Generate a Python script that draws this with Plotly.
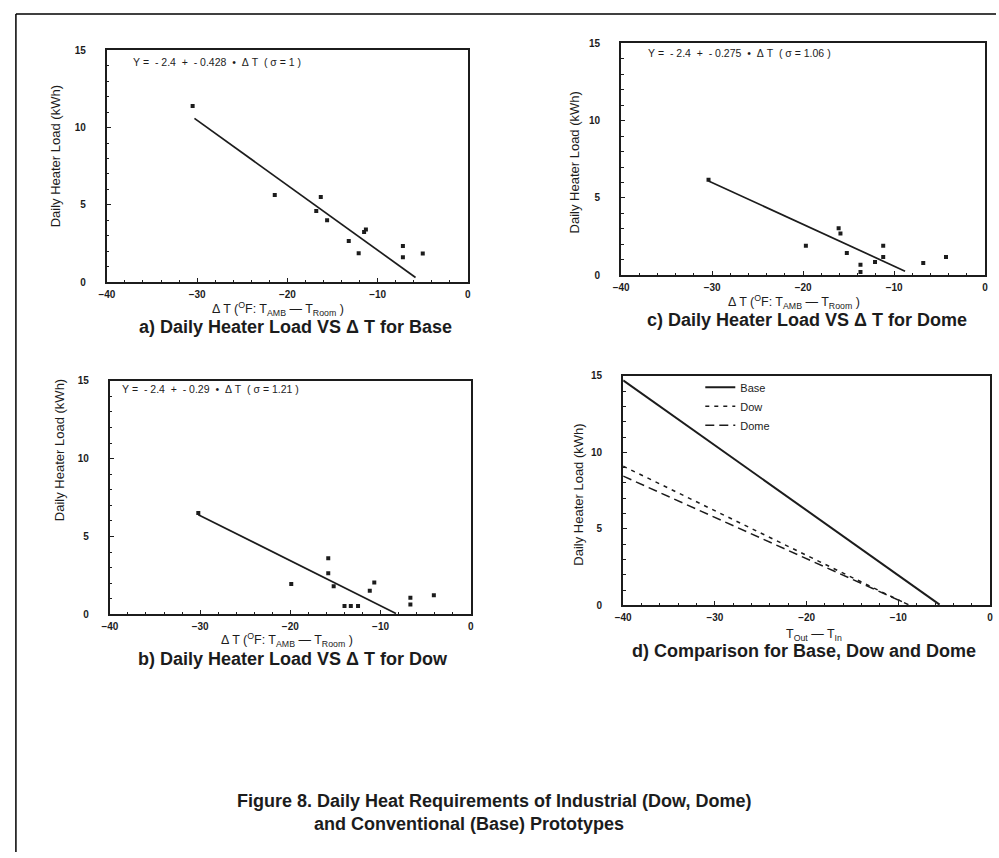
import plotly.graph_objects as go

W, H = 999, 858

# ---------------- data ----------------
a_x = [-30.5, -21.4, -16.3, -16.8, -15.6, -13.2, -12.1, -11.5, -11.3, -7.2, -7.2, -5.0]
a_y = [11.4, 5.64, 5.5, 4.6, 4.0, 2.66, 1.87, 3.25, 3.4, 2.34, 1.6, 1.85]
a_fit_x = [-30.3, -5.8]
a_fit_y = [10.6, 0.3]

c_x = [-30.4, -19.7, -16.1, -15.9, -15.2, -13.7, -13.7, -12.1, -11.2, -11.2, -6.8, -4.3]
c_y = [6.17, 1.91, 3.04, 2.7, 1.43, 0.68, 0.21, 0.85, 1.91, 1.17, 0.79, 1.17]
c_fit_x = [-30.4, -8.8]
c_fit_y = [6.1, 0.26]

b_x = [-30.2, -19.9, -15.8, -15.8, -15.2, -14.0, -13.3, -12.5, -11.2, -10.7, -6.7, -6.7, -4.1]
b_y = [6.5, 1.95, 3.6, 2.64, 1.8, 0.53, 0.53, 0.53, 1.52, 2.05, 1.06, 0.63, 1.23]
b_fit_x = [-30.2, -8.3]
b_fit_y = [6.4, 0.05]

d_base_x = [-40, -5.5]
d_base_y = [14.7, 0.06]
d_dow_x = [-40, -9.1]
d_dow_y = [9.1, 0.1]
d_dome_x = [-40, -8.9]
d_dome_y = [8.45, 0.06]

x_ticks = [-40, -30, -20, -10, 0]
y_ticks = [0, 5, 10, 15]

NB = "\u00a0"
S = NB * 2
eq_a = f"Y{NB}={S}-{NB}2.4{S}+{S}-{NB}0.428{S}•{S}Δ{NB}T{S}({NB}σ{NB}={NB}1{NB})"
eq_c = f"Y{NB}={S}-{NB}2.4{S}+{S}-{NB}0.275{S}•{S}Δ{NB}T{S}({NB}σ{NB}={NB}1.06{NB})"
eq_b = f"Y{NB}={S}-{NB}2.4{S}+{S}-{NB}0.29{S}•{S}Δ{NB}T{S}({NB}σ{NB}={NB}1.21{NB})"
ylab = "Daily Heater Load (kWh)"
xlab_dt = "Δ T (<sup>O</sup>F: T<sub>AMB</sub> — T<sub>Room</sub> )"
xlab_d = "T<sub>Out</sub> — T<sub>In</sub>"
sub_a = "a) Daily Heater Load VS Δ T for Base"
sub_c = "c) Daily Heater Load VS Δ T for Dome"
sub_b = "b) Daily Heater Load VS Δ T for Dow"
sub_d = "d) Comparison for Base, Dow and Dome"
fig_title1 = "Figure 8. Daily Heat Requirements of Industrial (Dow, Dome)"
fig_title2 = "and Conventional (Base) Prototypes"

INK = "#1c1c1c"
FONT = "Liberation Sans, Arial, sans-serif"

def px(x):
    return x / W

def py(y):
    return 1 - y / H

# panel pixel boxes (left, right, top, bottom)
boxes = {
    "a": (100, 465, 45, 280),
    "c": (620, 988, 38, 273),
    "b": (103, 468, 380, 617),
    "d": (622, 993, 375, 608),
}
order = ["a", "c", "b", "d"]

fig = go.Figure()

def ax_names(i):
    return ("x" if i == 0 else f"x{i+1}"), ("y" if i == 0 else f"y{i+1}")

mk = dict(symbol="square", size=4, color=INK)
scatter_sets = {"a": (a_x, a_y, a_fit_x, a_fit_y),
                "c": (c_x, c_y, c_fit_x, c_fit_y),
                "b": (b_x, b_y, b_fit_x, b_fit_y)}

for i, k in enumerate(order):
    xa, ya = ax_names(i)
    if k in scatter_sets:
        sx, sy, fx, fy = scatter_sets[k]
        fig.add_trace(go.Scatter(x=sx, y=sy, mode="markers", marker=mk,
                                 xaxis=xa, yaxis=ya, showlegend=False))
        fig.add_trace(go.Scatter(x=fx, y=fy, mode="lines",
                                 line=dict(color=INK, width=1.7),
                                 xaxis=xa, yaxis=ya, showlegend=False))
    else:
        fig.add_trace(go.Scatter(x=d_base_x, y=d_base_y, mode="lines", name="Base",
                                 line=dict(color=INK, width=2),
                                 xaxis=xa, yaxis=ya))
        fig.add_trace(go.Scatter(x=d_dow_x, y=d_dow_y, mode="lines", name="Dow",
                                 line=dict(color=INK, width=1.5, dash="4px,5px"),
                                 xaxis=xa, yaxis=ya))
        fig.add_trace(go.Scatter(x=d_dome_x, y=d_dome_y, mode="lines", name="Dome",
                                 line=dict(color=INK, width=1.5, dash="9px,5px"),
                                 xaxis=xa, yaxis=ya))

layout = dict(
    width=W, height=H,
    margin=dict(l=0, r=0, t=0, b=0),
    paper_bgcolor="white", plot_bgcolor="white",
    font=dict(family=FONT, color=INK),
    showlegend=True,
    legend=dict(x=px(700), y=py(372), xanchor="left", yanchor="top",
                bgcolor="rgba(0,0,0,0)", font=dict(size=11, family=FONT, color=INK),
                itemwidth=30, tracegroupgap=0),
)

tickfont = dict(size=10, family=FONT, color=INK, weight="bold")
for i, k in enumerate(order):
    l, r, t, b = boxes[k]
    xa, ya = ax_names(i)
    xkey = "xaxis" if i == 0 else f"xaxis{i+1}"
    ykey = "yaxis" if i == 0 else f"yaxis{i+1}"
    layout[xkey] = dict(domain=[px(l), px(r)], anchor=ya, range=[-40, 0],
                        tickvals=x_ticks, showgrid=False, zeroline=False,
                        showline=True, linecolor=INK, linewidth=2, mirror=True,
                        ticks="inside", ticklen=4, tickcolor=INK, tickwidth=1.3,
                        minor=dict(ticks="inside", dtick=2, ticklen=2.5, tickcolor=INK, showgrid=False),
                        tickfont=tickfont, ticklabelstandoff=2)
    layout[ykey] = dict(domain=[py(b), py(t)], anchor=xa, range=[0, 15],
                        tickvals=y_ticks, showgrid=False, zeroline=False,
                        showline=True, linecolor=INK, linewidth=2, mirror=True,
                        ticks="inside", ticklen=4, tickcolor=INK, tickwidth=1.3,
                        minor=dict(ticks="inside", dtick=1, ticklen=2.5, tickcolor=INK, showgrid=False),
                        tickfont=tickfont, ticklabelstandoff=17)

fig.update_layout(**layout)

ann = []
def add_text(text, x, y, size, bold=False, angle=0, xanchor="center"):
    ann.append(dict(text=f"<b>{text}</b>" if bold else text, x=px(x), y=py(y),
                    xref="paper", yref="paper", showarrow=False, textangle=angle,
                    xanchor=xanchor, yanchor="middle",
                    font=dict(size=size, family=FONT, color=INK)))

# equations
add_text(eq_a, 124, 57, 10.5, xanchor="left")
add_text(eq_c, 645, 48, 10.5, xanchor="left")
add_text(eq_b, 113, 388, 10.5, xanchor="left")
# y-axis titles
add_text(ylab, 48, 152, 13, angle=-90)
add_text(ylab, 573, 159, 13, angle=-90)
add_text(ylab, 52, 450, 13, angle=-90)
add_text(ylab, 576, 496, 13, angle=-90)
# x-axis titles
add_text(xlab_dt, 273, 307, 12.5)
add_text(xlab_dt, 795, 300, 12.5)
add_text(xlab_dt, 282, 643, 12.5)
add_text(xlab_d, 815, 638, 12.5)
# subtitles
add_text(sub_a, 291, 326, 18, bold=True)
add_text(sub_c, 808, 318, 18, bold=True)
add_text(sub_b, 288, 662, 18, bold=True)
add_text(sub_d, 805, 654, 18, bold=True)
# figure caption
add_text(fig_title1, 230, 806, 18, bold=True, xanchor="left")
add_text(fig_title2, 307, 830, 18, bold=True, xanchor="left")

fig.update_layout(annotations=ann)

# outer frame (top and left edges)
fig.add_shape(type="line", xref="paper", yref="paper", x0=px(8), x1=1, y0=py(8), y1=py(8),
              line=dict(color="black", width=1.5))
fig.add_shape(type="line", xref="paper", yref="paper", x0=px(8), x1=px(8), y0=py(8), y1=0,
              line=dict(color="black", width=1.5))

fig.write_html("out.html")
